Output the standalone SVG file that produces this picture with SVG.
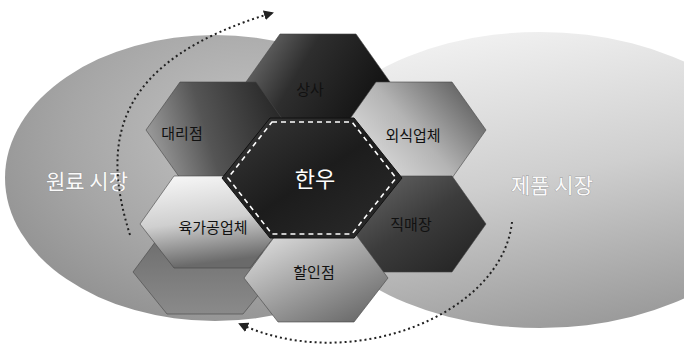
<svg xmlns="http://www.w3.org/2000/svg" width="684" height="347" viewBox="0 0 684 347">
<defs>
<radialGradient id="gL" cx="0.6" cy="0.35" r="0.75">
<stop offset="0" stop-color="#c4c4c4"/><stop offset="0.6" stop-color="#a6a6a6"/><stop offset="1" stop-color="#8e8e8e"/>
</radialGradient>
<linearGradient id="gR" x1="0.3" y1="0" x2="0.6" y2="1">
<stop offset="0" stop-color="#f2f2f2"/><stop offset="0.5" stop-color="#cfcfcf"/><stop offset="1" stop-color="#9a9a9a"/>
</linearGradient>
<linearGradient id="gTop" x1="0" y1="0" x2="1" y2="0.4">
<stop offset="0" stop-color="#7a7a7a"/><stop offset="0.45" stop-color="#2e2e2e"/><stop offset="1" stop-color="#141414"/>
</linearGradient>
<linearGradient id="gDae" x1="0" y1="0.5" x2="1" y2="0.3">
<stop offset="0" stop-color="#9a9a9a"/><stop offset="0.4" stop-color="#555"/><stop offset="1" stop-color="#222"/>
</linearGradient>
<linearGradient id="gOe" x1="0" y1="0.8" x2="1" y2="0.2">
<stop offset="0" stop-color="#e6e6e6"/><stop offset="0.5" stop-color="#b4b4b4"/><stop offset="1" stop-color="#5a5a5a"/>
</linearGradient>
<linearGradient id="gYuk" x1="0" y1="0" x2="0.2" y2="1">
<stop offset="0" stop-color="#fafafa"/><stop offset="0.55" stop-color="#cfcfcf"/><stop offset="1" stop-color="#6a6a6a"/>
</linearGradient>
<linearGradient id="gJik" x1="0" y1="0" x2="1" y2="1">
<stop offset="0" stop-color="#6e6e6e"/><stop offset="0.5" stop-color="#3c3c3c"/><stop offset="1" stop-color="#202020"/>
</linearGradient>
<linearGradient id="gHal" x1="0" y1="0" x2="0.8" y2="1">
<stop offset="0" stop-color="#e8e8e8"/><stop offset="0.5" stop-color="#a8a8a8"/><stop offset="1" stop-color="#6a6a6a"/>
</linearGradient>
<linearGradient id="gHid" x1="0" y1="0" x2="0" y2="1">
<stop offset="0" stop-color="#6a6a6a"/><stop offset="1" stop-color="#8a8a8a"/>
</linearGradient>
<linearGradient id="gCen" x1="0" y1="0" x2="1" y2="1">
<stop offset="0" stop-color="#3a3a3a"/><stop offset="0.5" stop-color="#1c1c1c"/><stop offset="1" stop-color="#2c2c2c"/>
</linearGradient>
<marker id="ah" viewBox="0 0 10 10" refX="8" refY="5" markerWidth="5" markerHeight="5" orient="auto">
<path d="M0,0 L10,5 L0,10 z" fill="#222"/>
</marker>
</defs>
<style>
.lbl{font-family:"Noto Sans CJK KR","Noto Sans",sans-serif;font-size:15px;fill:#111;text-anchor:middle;dominant-baseline:central}
.big{font-family:"Noto Sans CJK KR","Noto Sans",sans-serif;font-size:21px;fill:#fafafa;text-anchor:middle;dominant-baseline:central;stroke:#888;stroke-width:0.6;paint-order:stroke}
.hw{font-family:"Noto Sans CJK KR","Noto Sans",sans-serif;font-size:22px;fill:#fff;text-anchor:middle;dominant-baseline:central}
.arc{fill:none;stroke:#222;stroke-width:2;stroke-dasharray:2 3}
.hex{stroke:#444;stroke-width:0.6}
</style>
<rect width="684" height="347" fill="#fff"/>
<g id="market-raw"><ellipse cx="215" cy="178" rx="210" ry="143" fill="url(#gL)"/><text class="big" x="87" y="180">원료 시장</text></g>
<g id="market-product"><ellipse cx="540" cy="180" rx="240" ry="148" fill="url(#gR)"/><text class="big" x="552" y="184">제품 시장</text></g>
<g id="hex-sangsa"><polygon class="hex" points="280,34 356,34 390,82 356,130 280,130 246,82" fill="url(#gTop)"/><text class="lbl" x="310" y="88" fill="#1a1a1a">상사</text></g>
<g id="hex-daeri"><polygon class="hex" points="180,82 256,82 290,130 256,178 180,178 146,130" fill="url(#gDae)"/><text class="lbl" x="182" y="132">대리점</text></g>
<g id="hex-oesik"><polygon class="hex" points="376,82 452,82 486,130 452,178 376,178 342,130" fill="url(#gOe)"/><text class="lbl" x="413" y="134">외식업체</text></g>
<g id="hex-lower"><polygon class="hex" points="167,226 243,226 277,272 243,314 167,314 133,272" fill="url(#gHid)"/></g>
<g id="hex-yuk"><polygon class="hex" points="174,176 250,176 284,224 250,268 174,268 140,224" fill="url(#gYuk)"/><text class="lbl" x="213" y="226">육가공업체</text></g>
<g id="hex-jik"><polygon class="hex" points="376,176 452,176 486,224 452,272 376,272 342,224" fill="url(#gJik)"/><text class="lbl" x="411" y="223">직매장</text></g>
<g id="hex-halin"><polygon class="hex" points="278,232 354,232 388,278 354,322 278,322 244,278" fill="url(#gHal)"/><text class="lbl" x="314" y="271">할인점</text></g>
<g id="hex-hanwoo"><polygon points="270,118 354,118 402,178 354,238 270,238 222,178" fill="url(#gCen)" stroke="#111" stroke-width="1"/><polygon points="272,122 352,122 396,178 352,234 272,234 228,178" fill="none" stroke="#fff" stroke-width="1.6" stroke-dasharray="5 4"/><text class="hw" x="315" y="177">한우</text></g>
<g id="connectors">
<path class="arc" d="M130,235 C100,140 115,60 272,13" marker-end="url(#ah)"/>
<path class="arc" d="M512,222 C502,315 350,375 240,324" marker-end="url(#ah)"/>
</g>
</svg>
